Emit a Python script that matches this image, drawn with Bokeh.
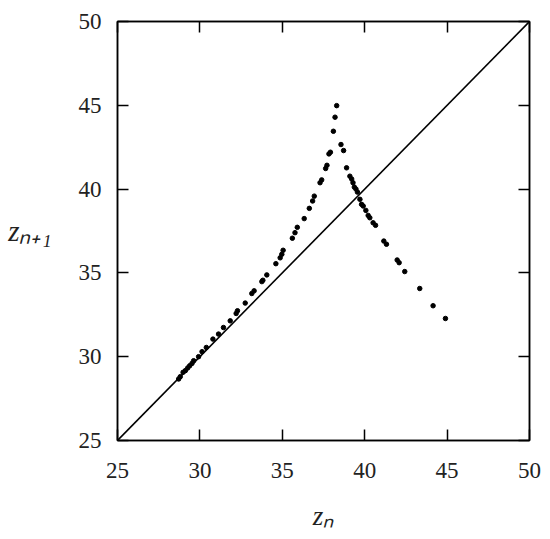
from bokeh.plotting import figure
from bokeh.models import LinearAxis, FixedTicker, CustomJSTickFormatter, Range1d
from bokeh.embed import file_html
from bokeh.resources import INLINE

# Data
zn = [28.71, 28.81, 28.98, 29.12, 29.26, 29.38, 29.52, 29.62, 29.92, 30.13, 30.39, 30.79,
      31.13, 31.43, 31.84, 32.20, 32.28, 32.75, 33.15, 33.29, 33.76, 33.82, 34.06, 34.61,
      34.87, 34.97, 35.05, 35.61, 35.77, 35.91, 36.33, 36.64, 36.84, 36.94, 37.29, 37.39,
      37.63, 37.71, 37.83, 37.92, 38.10, 38.20, 38.30,
      38.56, 38.72, 38.90, 39.10, 39.21, 39.29, 39.37, 39.47, 39.56, 39.71, 39.81, 39.91,
      40.07, 40.21, 40.31, 40.51, 40.66, 41.16, 41.32, 41.97, 42.09, 42.43, 43.34, 44.15, 44.90]
zn1 = [28.67, 28.81, 29.07, 29.17, 29.33, 29.46, 29.60, 29.76, 30.00, 30.30, 30.55, 31.05,
       31.35, 31.74, 32.14, 32.58, 32.74, 33.20, 33.77, 33.93, 34.48, 34.56, 34.88, 35.55,
       35.90, 36.11, 36.35, 37.07, 37.40, 37.72, 38.24, 38.85, 39.29, 39.58, 40.38, 40.55,
       41.23, 41.42, 42.10, 42.20, 43.45, 44.29, 44.98,
       42.66, 42.30, 41.27, 40.77, 40.60, 40.38, 40.12, 40.00, 39.82, 39.39, 39.09, 38.99,
       38.73, 38.43, 38.29, 37.99, 37.84, 36.90, 36.71, 35.77, 35.61, 35.08, 34.07, 33.04, 32.28]
diag = [25, 50]
ticks = [25, 30, 35, 40, 45, 50]
x_label = "z\u2099"
y_label = "z\u2099\u208a\u2081"

FONT = "Liberation Serif"

p = figure(frame_width=412, frame_height=419, output_backend="svg", toolbar_location=None,
           x_range=Range1d(25, 50), y_range=Range1d(25, 50),
           min_border_left=117, min_border_right=15, min_border_top=21, min_border_bottom=95,
           x_axis_location=None, y_axis_location=None)
p.grid.visible = False
p.outline_line_color = "black"
p.outline_line_width = 1.5
p.background_fill_color = "white"
p.border_fill_color = "white"

def make_axis(show_labels, standoff, label=None, label_size="26px"):
    ax = LinearAxis(ticker=FixedTicker(ticks=ticks))
    ax.axis_line_color = "black"
    ax.axis_line_width = 1.5
    ax.major_tick_line_color = "black"
    ax.major_tick_line_width = 1.5
    ax.major_tick_in = 11
    ax.major_tick_out = 0
    ax.minor_tick_line_color = None
    ax.major_label_text_font = FONT
    ax.major_label_text_font_size = "23px"
    ax.major_label_text_color = "#222222"
    ax.major_label_standoff = standoff
    if label is not None:
        ax.axis_label = label
        ax.axis_label_text_font = FONT
        ax.axis_label_text_font_size = label_size
        ax.axis_label_text_font_style = "italic"
        ax.axis_label_text_color = "#222222"
    if not show_labels:
        ax.formatter = CustomJSTickFormatter(code="return ''")
    return ax

left = make_axis(True, 16, y_label, "29px")
left.axis_label_orientation = "horizontal"
left.axis_label_standoff = 24
bottom = make_axis(True, 22, x_label, "27px")
bottom.axis_label_standoff = 20
p.add_layout(left, "left")
p.add_layout(bottom, "below")
p.add_layout(make_axis(False, 0), "right")
p.add_layout(make_axis(False, 0), "above")

p.line(diag, diag, line_color="black", line_width=1.6)
p.scatter(zn, zn1, size=4.5, color="black")

open("out.html", "w").write(file_html(p, INLINE))
